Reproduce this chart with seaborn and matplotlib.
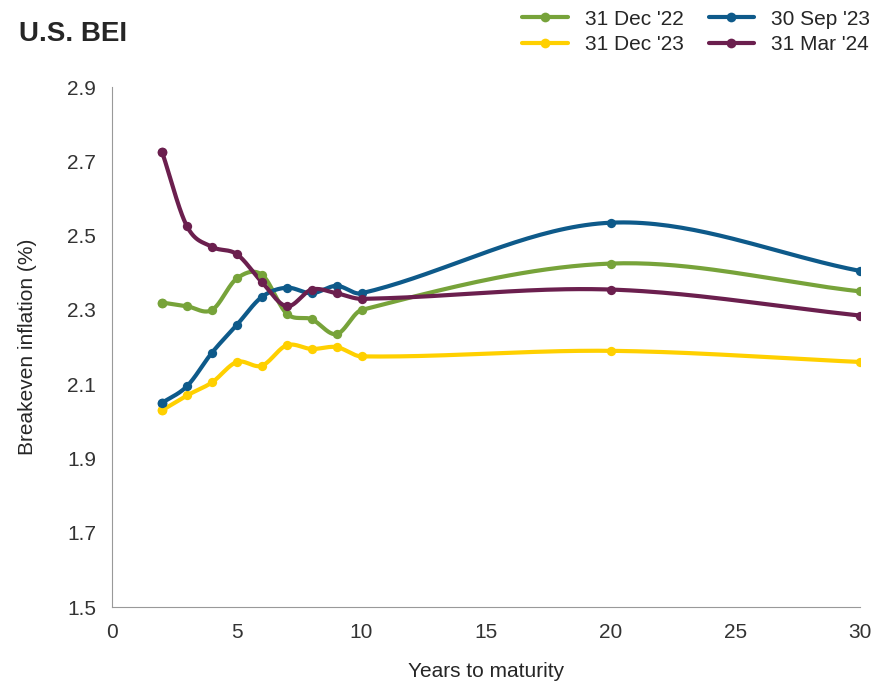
import numpy as np
import pandas as pd
import matplotlib
matplotlib.use("Agg")
import matplotlib.pyplot as plt
import seaborn as sns

years = [2, 3, 4, 5, 6, 7, 8, 9, 10, 20, 30]
dec22 = [2.32, 2.31, 2.30, 2.385, 2.395, 2.29, 2.275, 2.235, 2.30, 2.425, 2.35]
sep23 = [2.05, 2.095, 2.185, 2.26, 2.335, 2.36, 2.345, 2.365, 2.345, 2.535, 2.405]
dec23 = [2.03, 2.07, 2.105, 2.16, 2.15, 2.205, 2.195, 2.20, 2.175, 2.19, 2.16]
mar24 = [2.725, 2.525, 2.47, 2.45, 2.375, 2.31, 2.355, 2.345, 2.33, 2.355, 2.285]

# order chosen so the 2-column legend reads row-wise like the original
series = [("31 Dec '22", dec22, "#77A33A"),
          ("31 Dec '23", dec23, "#FFD000"),
          ("30 Sep '23", sep23, "#0E5A8A"),
          ("31 Mar '24", mar24, "#6B1F4E")]


def smooth(x, y, n=40):
    # cubic Hermite with centred-difference slopes (a stand-in for Excel smoothing)
    x = np.asarray(x, float)
    y = np.asarray(y, float)
    m = np.zeros_like(y)
    m[1:-1] = (y[2:] - y[:-2]) / (x[2:] - x[:-2])
    m[0] = (y[1] - y[0]) / (x[1] - x[0])
    m[-1] = (y[-1] - y[-2]) / (x[-1] - x[-2])
    xs, ys = [], []
    t = np.linspace(0, 1, n)
    for i in range(len(x) - 1):
        h = x[i + 1] - x[i]
        h00 = 2 * t ** 3 - 3 * t ** 2 + 1
        h10 = t ** 3 - 2 * t ** 2 + t
        h01 = -2 * t ** 3 + 3 * t ** 2
        h11 = t ** 3 - t ** 2
        xs.extend(x[i] + t * h)
        ys.extend(h00 * y[i] + h10 * h * m[i] + h01 * y[i + 1] + h11 * h * m[i + 1])
    return np.array(xs), np.array(ys)


sns.set_style("white")
plt.rcParams['font.family'] = ['Liberation Sans', 'DejaVu Sans']
fig, ax = plt.subplots(figsize=(8.84, 6.86), dpi=100)
fig.subplots_adjust(left=0.127, right=0.973, top=0.873, bottom=0.115)

for label, vals, color in series:
    sx, sy = smooth(years, vals)
    sns.lineplot(x=sx, y=sy, ax=ax, color=color, lw=3, sort=False, label=label,
                 marker="o", markevery=[0], markersize=7, markeredgewidth=0)
    sns.scatterplot(x=years, y=vals, ax=ax, color=color, s=45, linewidth=0, zorder=3)

ax.set_xlim(0, 30)
ax.set_ylim(1.5, 2.9)
ax.set_xticks(range(0, 31, 5))
ax.set_yticks(np.arange(1.5, 2.91, 0.2))
ax.yaxis.set_major_formatter(matplotlib.ticker.FormatStrFormatter("%.1f"))
ax.tick_params(labelsize=15, colors="#333333", pad=8)
ax.set_xlabel("Years to maturity", fontsize=15, labelpad=14)
ax.set_ylabel("Breakeven inflation (%)", fontsize=15, labelpad=2)
ax.yaxis.set_label_coords(-0.1, 0.5)
for s in ["top", "right"]:
    ax.spines[s].set_visible(False)
for s in ["left", "bottom"]:
    ax.spines[s].set_color("#999999")

fig.text(0.022, 0.94, "U.S. BEI", fontsize=20, fontweight="bold")
ax.legend(ncol=2, loc="lower right", bbox_to_anchor=(1.03, 1.04), frameon=False,
          fontsize=15, handlelength=2.2, columnspacing=1.2, borderaxespad=0.2,
          labelspacing=0.3)

fig.savefig("out.png")
